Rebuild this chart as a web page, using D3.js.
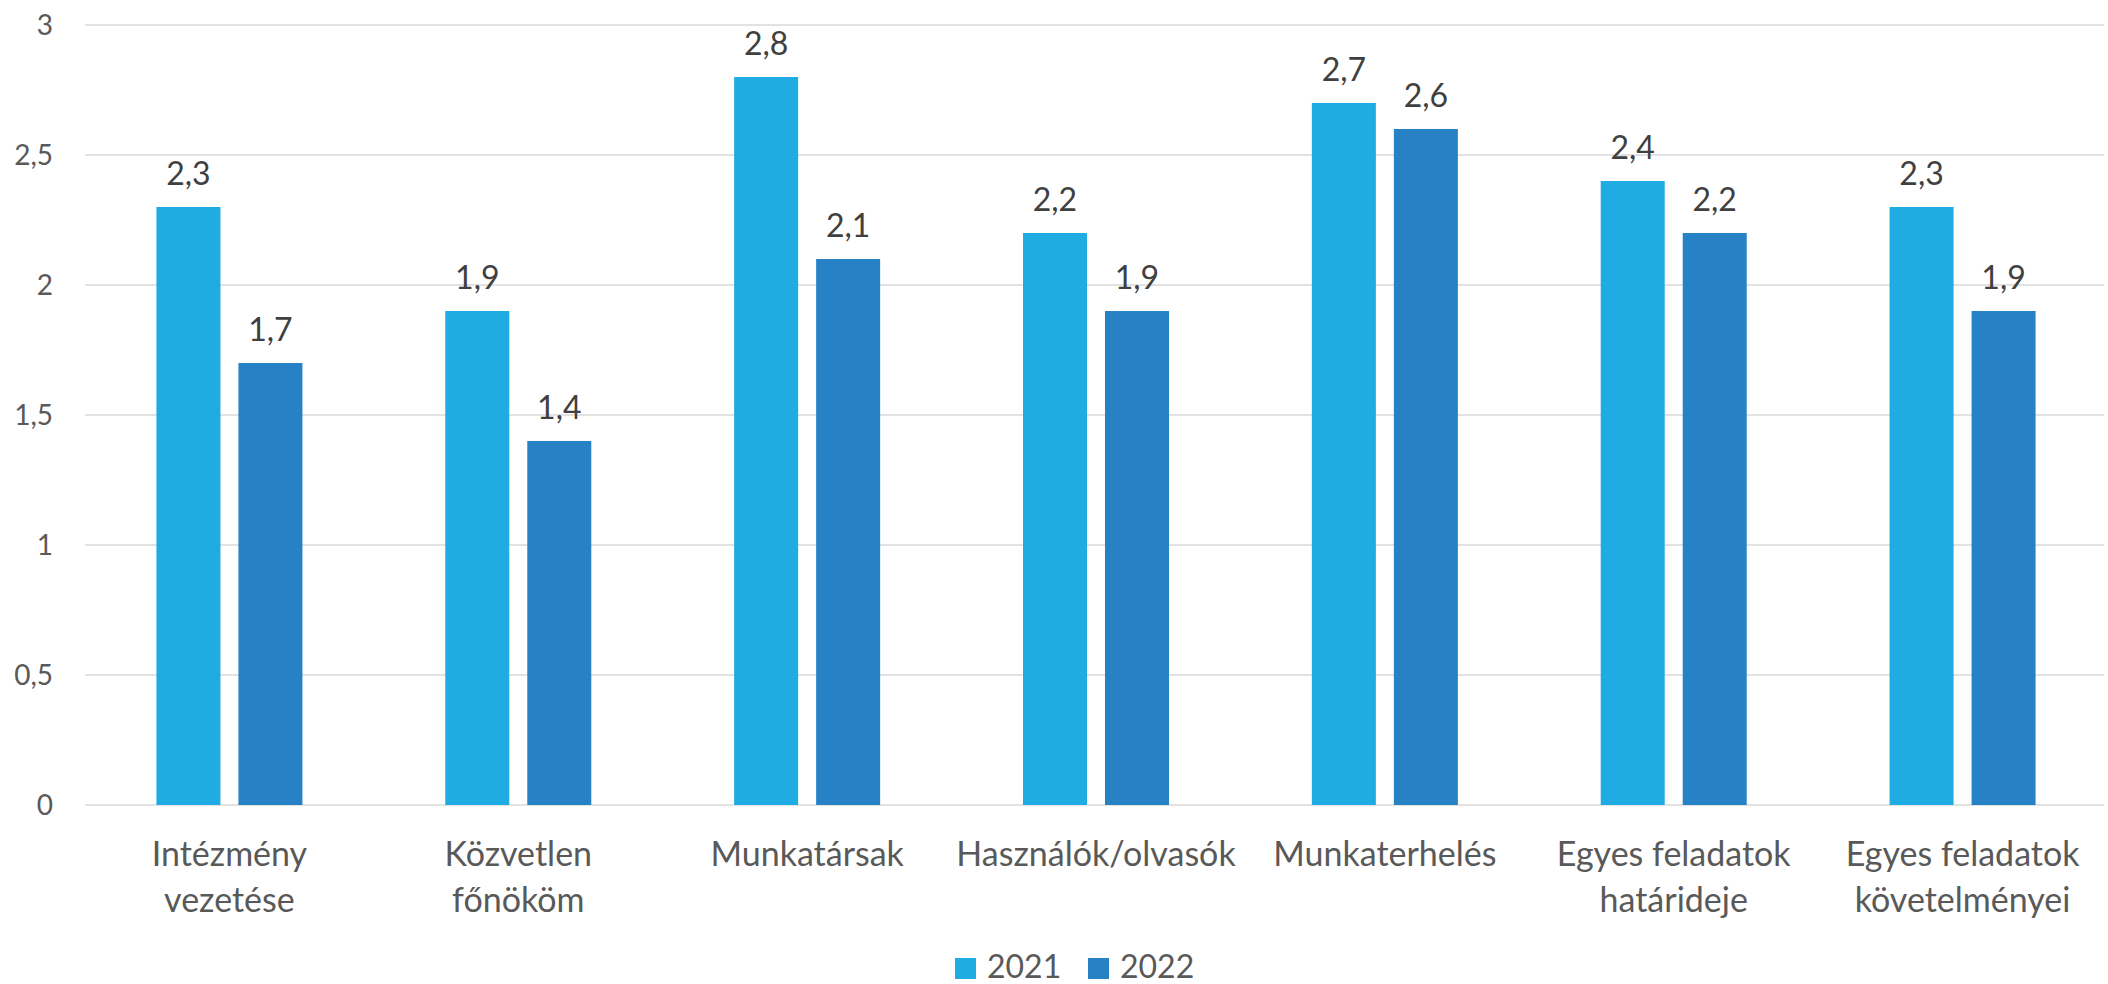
<!DOCTYPE html>
<html>
<head>
<meta charset="utf-8">
<script src="https://cdn.jsdelivr.net/npm/d3@7"></script>
<style>
  body { margin: 0; background: #fff; }
  svg { display: block; font-family: Lato, "Open Sans", sans-serif; }
</style>
</head>
<body>
<svg id="chart"></svg>
<script>
const categories = [
  ['Intézmény', 'vezetése'],
  ['Közvetlen', 'főnököm'],
  ['Munkatársak'],
  ['Használók/olvasók'],
  ['Munkaterhelés'],
  ['Egyes feladatok', 'határideje'],
  ['Egyes feladatok', 'követelményei']
];
const seriesNames = ['2021', '2022'];
const values2021 = [2.3, 1.9, 2.8, 2.2, 2.7, 2.4, 2.3];
const values2022 = [1.7, 1.4, 2.1, 1.9, 2.6, 2.2, 1.9];
const yTicks = [0, 0.5, 1, 1.5, 2, 2.5, 3];
const colors = ['#1eace3', '#2681c5'];

const width = 2108;
const height = 984;
const margin = { top: 25, right: 1, bottom: 179, left: 85 };

const svg = d3.select('#chart')
  .attr('width', width)
  .attr('height', height);

const keys = categories.map((c, i) => i);
const rows = keys.map(i => ({ key: i, label: categories[i], values: [values2021[i], values2022[i]] }));

const x = d3.scaleBand()
  .domain(keys)
  .range([margin.left, width - margin.right]);

const groupW = 146;
const x1 = d3.scaleBand()
  .domain([0, 1])
  .range([0, groupW])
  .paddingInner(18 / 82);

const y = d3.scaleLinear()
  .domain([0, 3])
  .range([height - margin.bottom, margin.top]);

const fmt = v => d3.format('.1f')(v).replace('.', ',');
const tickFmt = v => String(v).replace('.', ',');

// gridlines
svg.append('g')
  .selectAll('line')
  .data(yTicks)
  .join('line')
  .attr('x1', margin.left)
  .attr('x2', width - margin.right - 3)
  .attr('y1', d => y(d))
  .attr('y2', d => y(d))
  .attr('stroke', '#d9d9d9')
  .attr('stroke-width', 1.5);

// y tick labels
svg.append('g')
  .selectAll('text')
  .data(yTicks)
  .join('text')
  .attr('x', 53)
  .attr('y', d => y(d))
  .attr('dy', '0.35em')
  .attr('text-anchor', 'end')
  .attr('fill', '#595959')
  .style('font-size', '28px')
  .text(tickFmt);

// bars
const g = svg.append('g')
  .selectAll('g')
  .data(rows)
  .join('g')
  .attr('transform', d => `translate(${x(d.key) + (x.bandwidth() - groupW) / 2},0)`);

g.selectAll('rect')
  .data(d => d.values)
  .join('rect')
  .attr('x', (v, i) => x1(i))
  .attr('width', x1.bandwidth())
  .attr('y', v => y(v))
  .attr('height', v => y(0) - y(v))
  .attr('fill', (v, i) => colors[i]);

g.selectAll('text.val')
  .data(d => d.values)
  .join('text')
  .attr('class', 'val')
  .attr('x', (v, i) => x1(i) + x1.bandwidth() / 2)
  .attr('y', v => y(v) - 22)
  .attr('text-anchor', 'middle')
  .attr('fill', '#404040')
  .style('font-size', '32px')
  .text(fmt);

// category labels
svg.append('g')
  .selectAll('text')
  .data(rows)
  .join('text')
  .attr('x', d => x(d.key) + x.bandwidth() / 2)
  .attr('y', 866)
  .attr('text-anchor', 'middle')
  .attr('fill', '#595959')
  .style('font-size', '34px')
  .selectAll('tspan')
  .data(d => d.label.map(t => ({ t, cx: x(d.key) + x.bandwidth() / 2 })))
  .join('tspan')
  .attr('x', d => d.cx)
  .attr('dy', (d, i) => i === 0 ? 0 : 46)
  .text(d => d.t);

// legend
const legendX = [955, 1088];
const legend = svg.append('g')
  .selectAll('g')
  .data(seriesNames)
  .join('g')
  .attr('transform', (d, i) => `translate(${legendX[i]},958)`);

legend.append('rect')
  .attr('width', 21)
  .attr('height', 21)
  .attr('fill', (d, i) => colors[i]);

legend.append('text')
  .attr('x', 32)
  .attr('y', 20)
  .attr('fill', '#595959')
  .style('font-size', '32px')
  .text(d => d);
</script>
</body>
</html>
